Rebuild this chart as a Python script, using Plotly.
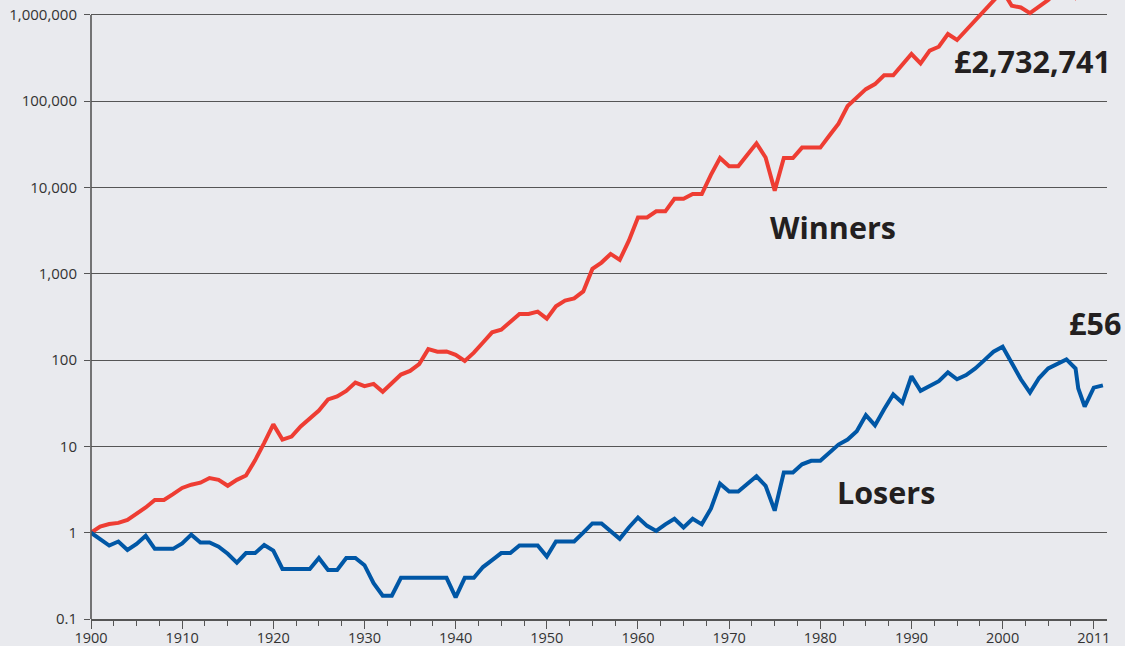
import math
import plotly.graph_objects as go

# ---------------- data ----------------
years = list(range(1900, 2012))

winners = [
    1.0, 1.18, 1.26, 1.3, 1.41, 1.67, 1.96, 2.4, 2.4, 2.8,            # 1900-09
    3.3, 3.6, 3.8, 4.3, 4.1, 3.5, 4.1, 4.6, 6.9, 11,                   # 1910-19
    18, 12, 13, 17, 21, 26, 35, 38, 44, 55,                            # 1920-29
    50, 53, 43, 55, 68, 75, 90, 134, 125, 126,                         # 1930-39
    115, 98, 122, 160, 210, 225, 280, 342, 342, 365,                   # 1940-49
    303, 420, 490, 520, 625, 1140, 1350, 1700, 1450, 2420,             # 1950-59
    4500, 4500, 5300, 5300, 7400, 7400, 8400, 8400, 14000, 22000,      # 1960-69
    17600, 17600, 24000, 32500, 22300, 9200, 22000, 22000, 29000, 29000,  # 1970-79
    29000, 40000, 55000, 88000, 110000, 138000, 158000, 200000, 200000, 265000,  # 1980-89
    352000, 274000, 385000, 428000, 600000, 512000, 665000, 865000, 1120000, 1500000,  # 1990-99
    1900000, 1280000, 1220000, 1050000, 1250000, 1490000, 1900000, 2300000, 1600000, 2200000,  # 2000-09
    2600000, 2732741,                                                  # 2010-11
]

losers_years = list(range(1900, 2009)) + [2008.3] + list(range(2009, 2012))
losers = [
    1.0, 0.84, 0.71, 0.79, 0.63, 0.74, 0.92, 0.65, 0.65, 0.65,         # 1900-09
    0.75, 0.95, 0.77, 0.77, 0.69, 0.57, 0.45, 0.58, 0.58, 0.72,        # 1910-19
    0.62, 0.38, 0.38, 0.38, 0.38, 0.51, 0.37, 0.37, 0.51, 0.51,        # 1920-29
    0.42, 0.26, 0.186, 0.186, 0.30, 0.30, 0.30, 0.30, 0.30, 0.30,      # 1930-39
    0.178, 0.30, 0.30, 0.40, 0.48, 0.58, 0.58, 0.71, 0.71, 0.71,       # 1940-49
    0.53, 0.79, 0.79, 0.79, 1.0, 1.28, 1.28, 1.05, 0.85, 1.15,         # 1950-59
    1.5, 1.2, 1.05, 1.25, 1.45, 1.15, 1.45, 1.25, 1.9, 3.7,            # 1960-69
    3.0, 3.0, 3.7, 4.5, 3.5, 1.8, 5.0, 5.0, 6.2, 6.8,                  # 1970-79
    6.8, 8.5, 10.5, 12, 15, 23, 17.5, 27, 40, 32,                      # 1980-89
    65, 44, 50, 57, 72, 60, 67, 80, 100, 125,                          # 1990-99
    143, 95, 60, 42, 62, 80, 90, 102, 80, 47,                          # 2000-2008.3
    29, 48, 51,                                                        # 2009-11
]

y_tick_vals = [0.1, 1, 10, 100, 1000, 10000, 100000, 1000000]
y_tick_text = ["0.1", "1", "10", "100", "1,000", "10,000", "100,000", "1,000,000"]
x_tick_vals = [1900, 1910, 1920, 1930, 1940, 1950, 1960, 1970, 1980, 1990, 2000, 2010]
x_tick_text = ["1900", "1910", "1920", "1930", "1940", "1950", "1960", "1970",
               "1980", "1990", "2000", "2011"]

labels = [
    # text, x (year), y (value)
    ("£2,732,741", 1994.4, 295000),
    ("Winners", 1974.3, 3500),
    ("£56", 2007.1, 270),
    ("Losers", 1981.6, 2.98),
]

# ---------------- figure ----------------
BG = "#e9eaee"
AXIS = "#555555"
FONT = "Open Sans, Noto Sans, sans-serif"

fig = go.Figure()
fig.add_trace(go.Scatter(x=years, y=winners, mode="lines",
                         line=dict(color="#ee3d33", width=4), name="Winners",
                         showlegend=False))
fig.add_trace(go.Scatter(x=losers_years, y=losers, mode="lines",
                         line=dict(color="#0057a6", width=4), name="Losers",
                         showlegend=False))

Y_MIN, Y_MAX = -1, 6.173
X_MIN, X_MAX = 1900, 2011.45

for text, xv, yv in labels:
    fig.add_annotation(x=xv, y=math.log10(yv), xref="x", yref="y",
                       text="<b>" + text + "</b>", showarrow=False,
                       xanchor="left", yanchor="middle",
                       font=dict(family=FONT, size=30.5, color="#231f20"))

# y axis line only up to the 1,000,000 gridline
fig.add_shape(type="line", xref="paper", yref="paper", x0=0, x1=0,
              y0=0, y1=(6 - Y_MIN) / (Y_MAX - Y_MIN),
              line=dict(color=AXIS, width=1.6))

fig.update_layout(
    width=1125, height=646,
    paper_bgcolor=BG, plot_bgcolor=BG,
    margin=dict(l=91, r=18, t=0, b=27, autoexpand=False),
    font=dict(family=FONT, size=15, color="#333333"),
    showlegend=False,
)
fig.update_xaxes(
    range=[X_MIN, X_MAX], showgrid=False, zeroline=False, automargin=False,
    showline=True, linecolor=AXIS, linewidth=1.6,
    tickmode="array", tickvals=x_tick_vals, ticktext=x_tick_text,
    ticks="outside", ticklen=8, tickwidth=1.4, tickcolor=AXIS,
    tickfont=dict(family=FONT, size=14.5, color="#333333"),
    ticklabelstandoff=-3,
    minor=dict(tickmode="linear", tick0=1900, dtick=2.5, ticks="outside",
               ticklen=5, tickwidth=1.2, tickcolor=AXIS, showgrid=False),
)
fig.update_yaxes(
    type="log", range=[Y_MIN, Y_MAX], automargin=False,
    tickmode="array", tickvals=y_tick_vals, ticktext=y_tick_text,
    showgrid=True, gridcolor="#555555", gridwidth=1,
    zeroline=False, showline=False,
    ticks="outside", ticklen=6, tickwidth=1.4, tickcolor=AXIS,
    tickfont=dict(family=FONT, size=15, color="#333333"),
    ticklabelstandoff=4,
)

fig.write_html(
    "out.html",
    config={"displayModeBar": False},
    post_script="document.body.style.margin='0';document.body.style.background='%s';" % BG,
)
